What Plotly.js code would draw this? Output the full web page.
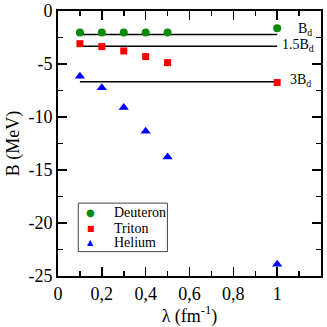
<!DOCTYPE html>
<html>
<head>
<meta charset="utf-8">
<script src="https://cdn.plot.ly/plotly-3.0.1.min.js"></script>
<style>
  body { margin: 0; background: #fff; }
  #chart { width: 327px; height: 327px; }
</style>
</head>
<body>
<div id="chart"></div>
<script>
// lambda values (fm^-1)
var lambda = [0.1, 0.2, 0.3, 0.4, 0.5, 1.0];

// binding energies (MeV)
var deuteron = [-2.02, -2.02, -2.02, -2.02, -2.02, -1.63];
var triton = [-3.08, -3.36, -3.77, -4.3, -4.87, -6.75];
var helium = [-6.15, -7.23, -9.11, -11.35, -13.77, -23.9];

// reference lines: B_d, 1.5 B_d, 3 B_d
var refX = [0.1, 1.0];
var refY = [-2.22, -3.33, -6.67];
var refLabels = ['B<sub>d</sub>', '1.5B<sub>d</sub>', '3B<sub>d</sub>'];

// ticks
var xTickVals = [0, 0.2, 0.4, 0.6, 0.8, 1];
var xTickText = ['0', '0,2', '0,4', '0,6', '0,8', '1'];
var yTickVals = [0, -5, -10, -15, -20, -25];
var yTickText = ['0', '-5', '-10', '-15', '-20', '-25'];

var serif = 'Liberation Serif';

var series = [
  {name: 'Deuteron', y: deuteron, symbol: 'circle', size: 8, color: '#0a8a0a', glyph: '●', gsize: 10},
  {name: 'Triton', y: triton, symbol: 'square', size: 7, color: '#ff0000', glyph: '■', gsize: 8},
  {name: 'Helium', y: helium, symbol: 'triangle-up', size: 9, color: '#0000ff', glyph: '▲', gsize: 8}
];

var data = [];

// black reference lines
refY.forEach(function (v) {
  data.push({
    x: refX,
    y: [v, v],
    mode: 'lines',
    line: {color: 'black', width: 1.5},
    showlegend: false,
    hoverinfo: 'skip'
  });
});

series.forEach(function (s) {
  data.push({
    x: lambda, y: s.y, name: s.name,
    mode: 'markers', type: 'scatter',
    showlegend: false,
    marker: {symbol: s.symbol, size: s.size, color: s.color}
  });
});

// label offsets (px) right of the line end / vertical shift
var labelDx = [19, 3, 11];
var labelDy = [5, 1, 1];

var annotations = refY.map(function (v, i) {
  return {
    x: 1.0, y: v, xref: 'x', yref: 'y',
    text: refLabels[i],
    showarrow: false,
    xanchor: 'left', yanchor: 'middle',
    xshift: labelDx[i],
    yshift: labelDy[i],
    font: {family: serif, size: 14, color: 'black'}
  };
});

// boxed legend, drawn by hand to keep the tight row spacing
var legRows = [0.238, 0.181, 0.128];
series.forEach(function (s, i) {
  annotations.push({
    x: 0.125, y: legRows[i], xref: 'paper', yref: 'paper',
    text: s.glyph, showarrow: false,
    xanchor: 'center', yanchor: 'middle',
    font: {family: 'DejaVu Sans', size: s.gsize, color: s.color}
  });
  annotations.push({
    x: 0.207, y: legRows[i], xref: 'paper', yref: 'paper',
    text: s.name, showarrow: false,
    xanchor: 'left', yanchor: 'middle',
    font: {family: serif, size: 14, color: 'black'}
  });
});

var layout = {
  width: 327, height: 327,
  margin: {l: 58, r: 6, t: 11, b: 51},
  paper_bgcolor: 'white', plot_bgcolor: 'white',
  font: {family: serif, size: 18, color: 'black'},
  showlegend: false,
  xaxis: {
    range: [0, 1.2],
    tickmode: 'array', tickvals: xTickVals, ticktext: xTickText,
    tickfont: {family: serif, size: 18},
    ticks: 'inside', ticklen: 9, tickwidth: 1.5, tickcolor: 'black',
    minor: {tickmode: 'array', tickvals: [0.1, 0.3, 0.5, 0.7, 0.9, 1.1], ticks: 'inside', ticklen: 5, tickwidth: 1.5, tickcolor: 'black'},
    showline: true, linecolor: 'black', linewidth: 2, mirror: 'ticks',
    showgrid: false, zeroline: false,
    title: {text: 'λ (fm<sup>-1</sup>)', font: {family: serif, size: 18}, standoff: 6}
  },
  yaxis: {
    range: [-25, 0],
    tickmode: 'array', tickvals: yTickVals, ticktext: yTickText,
    tickfont: {family: serif, size: 18},
    ticks: 'inside', ticklen: 9, tickwidth: 1.5, tickcolor: 'black',
    minor: {tickmode: 'array', tickvals: [-2.5, -7.5, -12.5, -17.5, -22.5], ticks: 'inside', ticklen: 5, tickwidth: 1.5, tickcolor: 'black'},
    showline: true, linecolor: 'black', linewidth: 2, mirror: 'ticks',
    showgrid: false, zeroline: false,
    title: {text: 'B (MeV)', font: {family: serif, size: 18}, standoff: 4}
  },
  shapes: [{
    type: 'rect', xref: 'paper', yref: 'paper',
    x0: 0.077, x1: 0.416, y0: 0.092, y1: 0.275,
    line: {color: '#444', width: 1}, fillcolor: 'rgba(0,0,0,0)'
  }],
  annotations: annotations
};

Plotly.newPlot('chart', data, layout, {displayModeBar: false, staticPlot: true});
</script>
</body>
</html>
